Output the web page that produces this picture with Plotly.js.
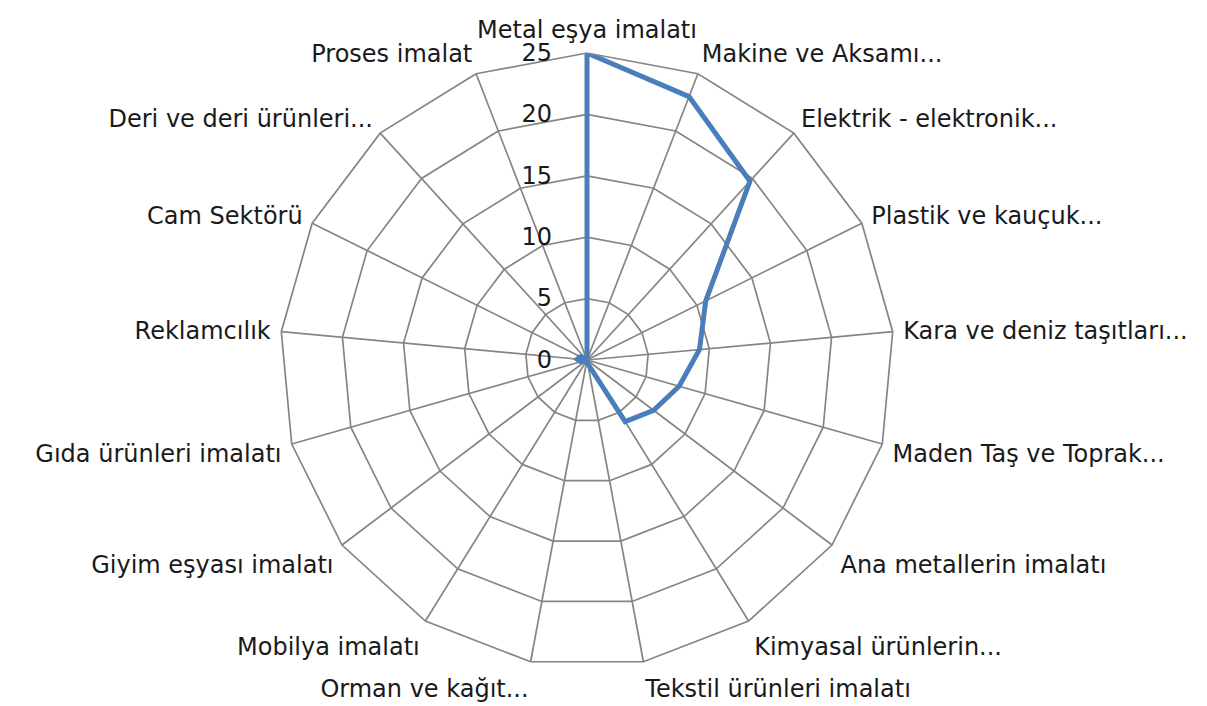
<!DOCTYPE html>
<html>
<head>
<meta charset="utf-8">
<script src="https://cdn.plot.ly/plotly-3.0.1.min.js"></script>
<style>html,body{margin:0;padding:0;background:#fff;}</style>
</head>
<body>
<div id="chart" style="width:1207px;height:706px;"></div>
<script>
const categories = [
  "Metal eşya imalatı",
  "Makine ve Aksamı...",
  "Elektrik - elektronik...",
  "Plastik ve kauçuk...",
  "Kara ve deniz taşıtları...",
  "Maden Taş ve Toprak...",
  "Ana metallerin imalatı",
  "Kimyasal ürünlerin...",
  "Tekstil ürünleri imalatı",
  "Orman ve kağıt...",
  "Mobilya imalatı",
  "Giyim eşyası imalatı",
  "Gıda ürünleri imalatı",
  "Reklamcılık",
  "Cam Sektörü",
  "Deri ve deri ürünleri...",
  "Proses imalat"
];
const values = [25, 23, 19.7, 10.8, 9.2, 7.8, 6.8, 5.9, 0.3, 0, 0, 0, 0.5, 0.8, 0.6, 0.2, 0];
const radialTicks = [0, 5, 10, 15, 20, 25];

const theta = categories.concat([categories[0]]);
const r = values.concat([values[0]]);

const FONT = "DejaVu Sans, sans-serif";
const GRID = "#858585";

const trace = {
  type: "scatterpolar",
  mode: "lines",
  theta: theta,
  r: r,
  line: {color: "#4a7ebb", width: 5},
  hoverinfo: "skip",
  showlegend: false
};

const layout = {
  width: 1207,
  height: 706,
  margin: {l: 0, r: 33, t: 53, b: 39, pad: 0},
  paper_bgcolor: "#ffffff",
  font: {family: FONT, size: 24, color: "#1a1a1a"},
  showlegend: false,
  polar: {
    bgcolor: "#ffffff",
    gridshape: "linear",
    angularaxis: {
      type: "category",
      categoryarray: categories,
      rotation: 90,
      direction: "clockwise",
      showline: true,
      linecolor: GRID,
      linewidth: 1.7,
      gridcolor: GRID,
      gridwidth: 1.7,
      ticks: "outside",
      ticklen: 5,
      tickcolor: "rgba(0,0,0,0)",
      tickfont: {family: FONT, size: 24, color: "#1a1a1a"}
    },
    radialaxis: {
      range: [0, 25],
      tickvals: radialTicks,
      ticktext: radialTicks.map(String),
      angle: 90,
      side: "counterclockwise",
      tickangle: 90,
      showline: false,
      ticks: "outside",
      ticklen: 26,
      tickcolor: "rgba(0,0,0,0)",
      gridcolor: GRID,
      gridwidth: 1.7,
      tickfont: {family: FONT, size: 24, color: "#1a1a1a"}
    }
  }
};

Plotly.newPlot("chart", [trace], layout, {displayModeBar: false, staticPlot: true});
</script>
</body>
</html>
